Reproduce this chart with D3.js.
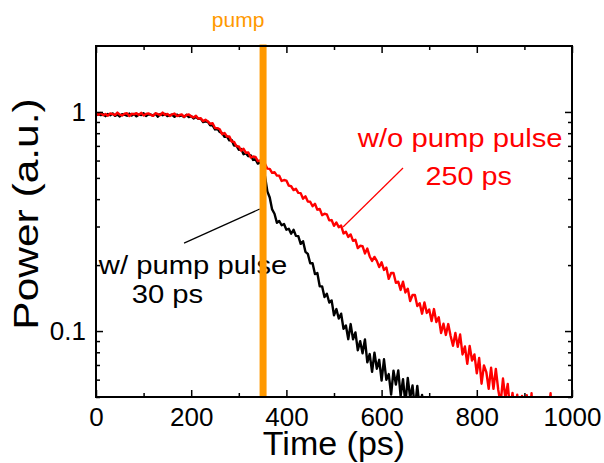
<!DOCTYPE html>
<html><head><meta charset="utf-8">
<script src="https://cdn.jsdelivr.net/npm/d3@7"></script>
<style>body{margin:0;background:#fff}</style>
</head><body><svg id="c" width="604" height="463"></svg>
<script>
// ---- data ----
const xTicks = [0, 200, 400, 600, 800, 1000];
const xMinor = [100, 300, 500, 700, 900];
const yTicks = [0.1, 1];
const yTickLabels = ["0.1", "1"];
const yMinor = [0.05, 0.06, 0.07, 0.08, 0.09, 0.2, 0.3, 0.4, 0.5, 0.6, 0.7, 0.8, 0.9];
const sampleStep = 5; // ps between samples, series start at 0 ps
const pumpTime = 351; // ps
// w/o pump pulse (red)
const redValues = [
0.985,0.970,0.990,0.966,0.979,0.961,0.984,0.978,0.967,0.993,0.972,0.964,0.982,0.987,0.958,0.981,0.975,0.988,0.969,0.991,
0.963,0.979,0.985,0.970,0.960,0.987,0.978,0.967,0.994,0.970,0.980,0.959,0.975,0.983,0.958,0.966,0.975,0.950,0.969,0.973,
0.955,0.944,0.962,0.932,0.936,0.908,0.921,0.905,0.883,0.888,0.845,0.844,0.834,0.791,0.802,0.773,0.774,0.733,0.730,0.697,
0.696,0.665,0.679,0.651,0.653,0.619,0.626,0.624,0.596,0.601,0.576,0.580,0.551,0.550,0.527,0.531,0.512,0.512,0.484,0.489,
0.486,0.461,0.458,0.440,0.446,0.427,0.426,0.402,0.412,0.390,0.389,0.371,0.381,0.358,0.361,0.338,0.343,0.341,0.320,0.321,
0.302,0.313,0.298,0.303,0.279,0.284,0.269,0.276,0.258,0.261,0.239,0.245,0.244,0.226,0.238,0.219,0.209,0.218,0.209,0.196,
0.206,0.190,0.195,0.173,0.184,0.184,0.166,0.168,0.154,0.168,0.150,0.156,0.137,0.146,0.146,0.130,0.134,0.120,0.135,0.121,
0.1255,0.111,0.126,0.110,0.1156,0.098,0.108,0.096,0.1076,0.095,0.0856,0.098,0.0847,0.0964,0.0782,0.085,0.0708,0.0856,0.0734,0.0782,
0.0641,0.0753,0.0575,0.0697,0.065,0.0545,0.068,0.0545,0.0671,0.054,0.0468,0.0607,0.0495,0.0574,0.0433,0.0522,0.0431,0.0512,0.0384,0.0506,
0.0387,0.051,0.0363,0.052,0.0327,0.040,0.0353,0.0436,0.031,0.0353,0.0406,0.052,0.030
];
// w/ pump pulse (black)
const blackValues = [
0.962,0.982,0.967,0.976,0.957,0.979,0.966,0.985,0.960,0.973,0.954,0.977,0.971,0.961,0.983,0.964,0.980,0.955,0.974,0.968,
0.986,0.958,0.976,0.973,0.962,0.982,0.952,0.979,0.966,0.980,0.957,0.966,0.971,0.950,0.972,0.958,0.966,0.948,0.971,0.948,
0.956,0.934,0.948,0.930,0.932,0.899,0.905,0.902,0.870,0.868,0.832,0.840,0.810,0.800,0.770,0.773,0.742,0.745,0.702,0.702,
0.672,0.677,0.641,0.648,0.628,0.634,0.604,0.609,0.581,0.588,0.565,0.509,0.434,0.407,0.359,0.343,0.312,0.318,0.304,0.308,
0.290,0.293,0.278,0.290,0.272,0.271,0.250,0.257,0.230,0.225,0.204,0.204,0.182,0.184,0.160,0.160,0.143,0.148,0.135,0.138,
0.118,0.126,0.114,0.120,0.1025,0.106,0.0918,0.1076,0.0916,0.0986,0.0817,0.0899,0.0792,0.0915,0.072,0.0785,0.0651,0.0796,0.0673,0.0739,
0.0594,0.0743,0.0599,0.0636,0.0513,0.066,0.057,0.0661,0.0505,0.0603,0.0467,0.0611,0.0495,0.0564,0.0443,0.0562,0.0441,0.0511,0.041
];
// annotations (data coordinates: [time, power])
const blackPointer = [[185, 0.252], [344, 0.3605]];
const redPointer = [[519, 0.2985], [645, 0.555]];
const blackLabel = ["w/ pump pulse", "30 ps"];
const redLabel = ["w/o pump pulse", "250 ps"];

// ---- chart ----
const svg = d3.select("#c");
const FONT = "'Liberation Sans', Arial, Helvetica, sans-serif";
const x = d3.scaleLinear().domain([0, 1000]).range([96, 572]);
const y = d3.scaleLog().domain([0.05, 2]).range([397, 46]);

svg.append("defs").append("clipPath").attr("id", "clip")
  .append("rect").attr("x", x(0)).attr("y", y(2)).attr("width", x(1000) - x(0)).attr("height", y(0.05) - y(2));

const line = d3.line().x((d, i) => x(i * sampleStep)).y(d => y(d));
const plot = svg.append("g").attr("clip-path", "url(#clip)");
plot.append("path").datum(blackValues).attr("d", line)
  .attr("fill", "none").attr("stroke", "#000").attr("stroke-width", 2.4).attr("stroke-linejoin", "round");
plot.append("path").datum(redValues).attr("d", line)
  .attr("fill", "none").attr("stroke", "#ff0000").attr("stroke-width", 2.4).attr("stroke-linejoin", "round");

// pointer lines
svg.append("line").attr("x1", x(blackPointer[0][0])).attr("y1", y(blackPointer[0][1]))
  .attr("x2", x(blackPointer[1][0])).attr("y2", y(blackPointer[1][1])).attr("stroke", "#000").attr("stroke-width", 1.2);
svg.append("line").attr("x1", x(redPointer[0][0])).attr("y1", y(redPointer[0][1]))
  .attr("x2", x(redPointer[1][0])).attr("y2", y(redPointer[1][1])).attr("stroke", "#ff0000").attr("stroke-width", 1.2);

function label(txt, t, v, color, size, sx) {
  svg.append("text").text(txt)
    .attr("transform", `translate(${x(t)},${y(v)}) scale(${sx},1)`)
    .attr("text-anchor", "middle").attr("font-family", FONT).attr("font-size", size).attr("fill", color);
}
label(blackLabel[0], 204, 0.182, "#000", 25, 1.17);
label(blackLabel[1], 150, 0.134, "#000", 25, 1.17);
label(redLabel[0], 765, 0.694, "#ff0000", 25, 1.17);
label(redLabel[1], 783, 0.464, "#ff0000", 25, 1.15);

// pump bar
svg.append("rect").attr("x", x(pumpTime) - 3.5).attr("y", y(2) - 1.5).attr("width", 7)
  .attr("height", y(0.05) - y(2) + 1.5).attr("fill", "#ff9900");
svg.append("text").text("pump").attr("x", x(pumpTime) - 25).attr("y", 27)
  .attr("text-anchor", "middle").attr("font-family", FONT).attr("font-size", 21).attr("fill", "#ff9900");

// axes
function styleAxis(g) {
  g.select(".domain").remove();
  g.selectAll(".tick line").attr("stroke", "#000").attr("stroke-width", 1.5);
  g.selectAll(".tick text").attr("font-family", FONT).attr("font-size", 26).attr("fill", "#000");
}
svg.append("g").attr("transform", `translate(0,${y(0.05)})`)
  .call(d3.axisBottom(x).tickValues(xTicks).tickSize(-7).tickPadding(11).tickFormat(d3.format("d"))).call(styleAxis);
svg.append("g").attr("transform", `translate(0,${y(0.05)})`)
  .call(d3.axisBottom(x).tickValues(xMinor).tickSize(-4).tickFormat("")).call(styleAxis);
svg.append("g").attr("transform", `translate(0,${y(2)})`)
  .call(d3.axisTop(x).tickValues(xTicks).tickSize(-7).tickFormat("")).call(styleAxis);
svg.append("g").attr("transform", `translate(0,${y(2)})`)
  .call(d3.axisTop(x).tickValues(xMinor).tickSize(-4).tickFormat("")).call(styleAxis);
svg.append("g").attr("transform", `translate(${x(0)},0)`)
  .call(d3.axisLeft(y).tickValues(yTicks).tickSize(-7).tickPadding(10).tickFormat((d, i) => yTickLabels[i])).call(styleAxis);
svg.append("g").attr("transform", `translate(${x(0)},0)`)
  .call(d3.axisLeft(y).tickValues(yMinor).tickSize(-4).tickFormat("")).call(styleAxis);
svg.append("g").attr("transform", `translate(${x(1000)},0)`)
  .call(d3.axisRight(y).tickValues(yTicks).tickSize(-7).tickFormat("")).call(styleAxis);
svg.append("g").attr("transform", `translate(${x(1000)},0)`)
  .call(d3.axisRight(y).tickValues(yMinor).tickSize(-4).tickFormat("")).call(styleAxis);

svg.append("rect").attr("x", x(0)).attr("y", y(2)).attr("width", x(1000) - x(0)).attr("height", y(0.05) - y(2))
  .attr("fill", "none").attr("stroke", "#000").attr("stroke-width", 2);

// axis titles
svg.append("text").text("Time (ps)").attr("x", (x(0) + x(1000)) / 2).attr("y", 455)
  .attr("text-anchor", "middle").attr("font-family", FONT).attr("font-size", 34).attr("fill", "#000");
svg.append("text").text("Power (a.u.)").attr("transform", "translate(38,214) rotate(-90) scale(1.18,1)")
  .attr("text-anchor", "middle").attr("font-family", FONT).attr("font-size", 36).attr("fill", "#000");
</script></body></html>
